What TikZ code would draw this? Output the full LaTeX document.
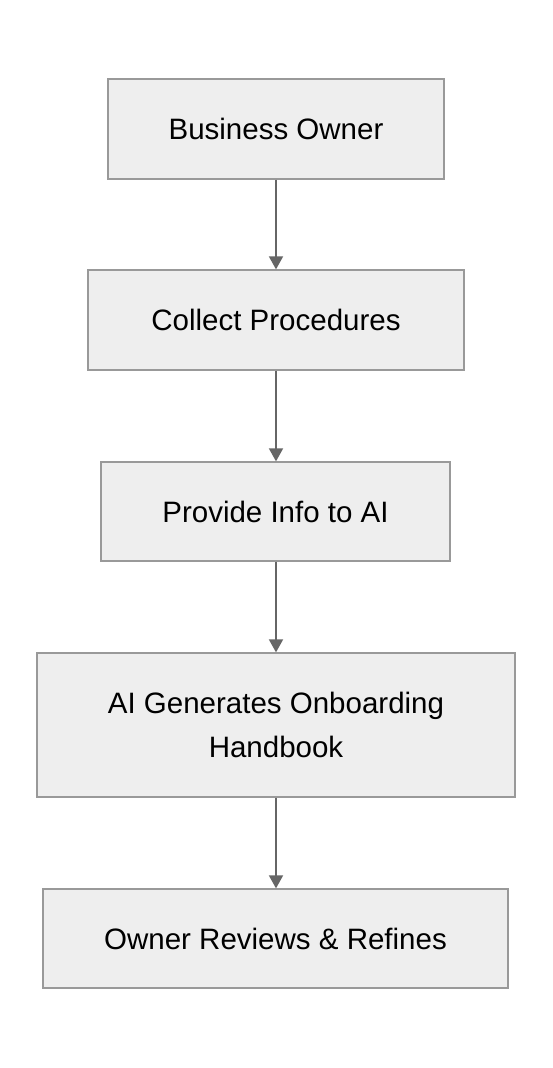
\documentclass[tikz,border=0pt]{standalone}
\usepackage{fontspec}
\setmainfont{Liberation Sans}
\usetikzlibrary{arrows.meta}
\definecolor{boxfill}{HTML}{EEEEEE}
\definecolor{boxline}{HTML}{999999}
\definecolor{arrowcol}{HTML}{666666}
\begin{document}
\begin{tikzpicture}[x=1pt,y=-1pt,
  box/.style={draw=boxline,fill=boxfill,line width=1.3pt,inner sep=0pt,align=center,
    font=\fontsize{29.5}{44}\selectfont,text=black},
  flow/.style={draw=arrowcol,line width=1.8pt,-{Triangle[width=14pt,length=13pt]}}]
\useasboundingbox (0,0) rectangle (552,1068);
\fill[white] (0,0) rectangle (552,1068);
\node[box,minimum width=336pt,minimum height=100pt] (a) at (276,129) {Business Owner};
\node[box,minimum width=376pt,minimum height=100pt] (b) at (276,320) {Collect Procedures};
\node[box,minimum width=349pt,minimum height=99pt] (c) at (275.5,511.5) {Provide Info to AI};
\node[box,minimum width=478pt,minimum height=144pt] (d) at (276,725) {AI Generates Onboarding\\Handbook};
\node[box,minimum width=465pt,minimum height=99pt] (e) at (275.5,938.5) {Owner Reviews \& Refines};
\draw[flow] (a.south) -- (b.north);
\draw[flow] (b.south) -- (b.south |- c.north);
\draw[flow] (c.south -| b.south) -- (b.south |- d.north);
\draw[flow] (d.south) -- (e.north -| d.south);
\end{tikzpicture}
\end{document}
